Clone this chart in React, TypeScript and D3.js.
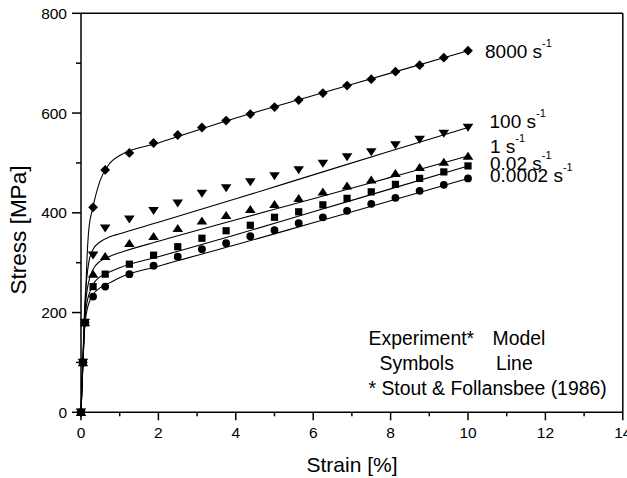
import React from "react";
import * as d3 from "d3";

const W = 627;
const H = 478;

// experimental symbol strains (%)
const expStrain = [0, 0.05, 0.1, 0.3125, 0.625, 1.25, 1.875, 2.5, 3.125, 3.75, 4.375, 5, 5.625, 6.25, 6.875, 7.5, 8.125, 8.75, 9.375, 10];
const exp8000 = [0, 100, 180, 411, 486, 520, 540, 556, 571, 585, 598, 612, 626, 640, 655, 668, 683, 696, 711, 725];
const exp100 = [0, 100, 180, 315, 369, 387, 404, 419, 439, 450, 462, 474, 486, 499, 512, 522, 536, 547, 559, 571];
const exp1 = [0, 100, 180, 277, 313, 339, 353, 369, 384, 395, 407, 417, 429, 442, 454, 466, 479, 491, 502, 514];
const exp002 = [0, 100, 180, 252, 277, 297, 315, 332, 349, 364, 375, 391, 402, 416, 429, 442, 457, 469, 482, 494];
const exp00002 = [0, 100, 180, 232, 252, 277, 294, 312, 327, 339, 353, 365, 379, 391, 404, 418, 430, 444, 456, 469];

// model line strains (%)
const modelStrain = [0, 0.05, 0.1, 0.15, 0.2, 0.3, 0.5, 0.75, 1, 2, 4, 6, 8, 10];
const model8000 = [0, 100, 190, 300, 365, 408, 466, 500, 515, 540, 590, 635, 680, 725];
const model100 = [0, 110, 220, 270, 300, 325, 342, 352, 358, 381, 428, 476, 524, 571];
const model1 = [0, 105, 200, 240, 262, 285, 303, 313, 320, 343, 386, 428, 471, 514];
const model002 = [0, 100, 185, 218, 235, 255, 272, 282, 290, 312, 356, 402, 448, 494];
const model00002 = [0, 100, 175, 203, 218, 235, 250, 260, 270, 293, 336, 380, 424, 469];

const rateLabels = ["8000", "100", "1", "0.02", "0.0002"];
const symbolKinds = ["diamond", "down", "up", "square", "circle"];
const expSeries = [exp8000, exp100, exp1, exp002, exp00002];
const modelSeries = [model8000, model100, model1, model002, model00002];

const xMajor = [0, 2, 4, 6, 8, 10, 12, 14];
const xMinor = [1, 3, 5, 7, 9, 11, 13];
const yMajor = [0, 200, 400, 600, 800];
const yMinor = [100, 300, 500, 700];

const FONT = "'Liberation Sans', Arial, Helvetica, sans-serif";

function Marker({ kind, cx, cy }: { kind: string; cx: number; cy: number }) {
  if (kind === "diamond") {
    const r = 4.9;
    return <path d={`M${cx},${cy - r}L${cx + r},${cy}L${cx},${cy + r}L${cx - r},${cy}Z`} fill="#000" />;
  }
  if (kind === "down") {
    return <path d={`M${cx - 5.3},${cy - 3.7}L${cx + 5.3},${cy - 3.7}L${cx},${cy + 4.3}Z`} fill="#000" />;
  }
  if (kind === "up") {
    return <path d={`M${cx - 5.3},${cy + 3.7}L${cx + 5.3},${cy + 3.7}L${cx},${cy - 4.3}Z`} fill="#000" />;
  }
  if (kind === "square") {
    return <rect x={cx - 3.6} y={cy - 3.6} width={7.2} height={7.2} fill="#000" />;
  }
  return <circle cx={cx} cy={cy} r={3.9} fill="#000" />;
}

export default function App() {
  const x = d3.scaleLinear().domain([0, 14]).range([81, 622.8]);
  const y = d3.scaleLinear().domain([0, 800]).range([412.3, 13.3]);

  const line = d3
    .line<[number, number]>()
    .x((d) => x(d[0]))
    .y((d) => y(d[1]))
    .curve(d3.curveMonotoneX);

  const labelBaselines = [58.3, 128, 153, 170, 182];
  const labelXs = [485, 489.5, 490, 490, 490];

  return (
    <svg
      width={W}
      height={H}
      style={{ position: "absolute", left: 0, top: 0, background: "#fff" }}
      fontFamily={FONT}
    >
      <rect x={0} y={0} width={W} height={H} fill="#fff" />

      {/* model lines */}
      {modelSeries.map((s, i) => (
        <path
          key={"m" + i}
          d={line(modelStrain.map((e, j) => [e, s[j]] as [number, number])) || ""}
          fill="none"
          stroke="#000"
          strokeWidth={1.1}
        />
      ))}

      {/* experimental symbols */}
      {expSeries.map((s, i) => (
        <g key={"e" + i}>
          {expStrain.map((e, j) => (
            <Marker key={j} kind={symbolKinds[i]} cx={x(e)} cy={y(s[j])} />
          ))}
        </g>
      ))}

      {/* frame */}
      <line x1={x(0)} x2={x(14)} y1={y(800)} y2={y(800)} stroke="#000" strokeWidth={1.5} />
      <line x1={x(14)} x2={x(14)} y1={y(800)} y2={y(0)} stroke="#000" strokeWidth={1.5} />
      <line x1={x(0)} x2={x(14)} y1={y(0)} y2={y(0)} stroke="#000" strokeWidth={1.5} />
      <line x1={x(0)} x2={x(0)} y1={y(800)} y2={y(0)} stroke="#000" strokeWidth={1.5} />

      {/* x ticks */}
      {xMajor.map((t) => (
        <g key={"xt" + t}>
          <line x1={x(t)} x2={x(t)} y1={y(0)} y2={y(0) + 8} stroke="#000" strokeWidth={1.5} />
          <text x={x(t)} y={438} textAnchor="middle" fontSize={15.5} fill="#000">
            {t}
          </text>
        </g>
      ))}
      {xMinor.map((t) => (
        <line key={"xm" + t} x1={x(t)} x2={x(t)} y1={y(0)} y2={y(0) + 4} stroke="#000" strokeWidth={1.5} />
      ))}

      {/* y ticks */}
      {yMajor.map((t) => (
        <g key={"yt" + t}>
          <line x1={x(0) - 9} x2={x(0)} y1={y(t)} y2={y(t)} stroke="#000" strokeWidth={1.5} />
          <text x={67} y={y(t) + 5.6} textAnchor="end" fontSize={15.5} fill="#000">
            {t}
          </text>
        </g>
      ))}
      {yMinor.map((t) => (
        <line key={"ym" + t} x1={x(0) - 5} x2={x(0)} y1={y(t)} y2={y(t)} stroke="#000" strokeWidth={1.5} />
      ))}

      {/* axis titles */}
      <text x={352} y={471.5} textAnchor="middle" fontSize={21} fill="#000">
        Strain [%]
      </text>
      <text
        transform={`translate(26, 230) rotate(-90)`}
        textAnchor="middle"
        fontSize={22.5}
        fill="#000"
      >
        Stress [MPa]
      </text>

      {/* rate labels */}
      {rateLabels.map((r, i) => (
        <text key={"rl" + i} x={labelXs[i]} y={labelBaselines[i]} fontSize={19} fill="#000">
          {r + " s"}
          <tspan fontSize={11} dy={-11}>
            -1
          </tspan>
        </text>
      ))}

      {/* legend text */}
      <text x={368.5} y={345} fontSize={19.4} fill="#000">Experiment*</text>
      <text x={492.5} y={345} fontSize={19.4} fill="#000">Model</text>
      <text x={379.5} y={370} fontSize={19.4} fill="#000">Symbols</text>
      <text x={496} y={370} fontSize={19.4} fill="#000">Line</text>
      <text x={368.5} y={395} fontSize={19.4} fill="#000">* Stout &amp; Follansbee (1986)</text>
    </svg>
  );
}
